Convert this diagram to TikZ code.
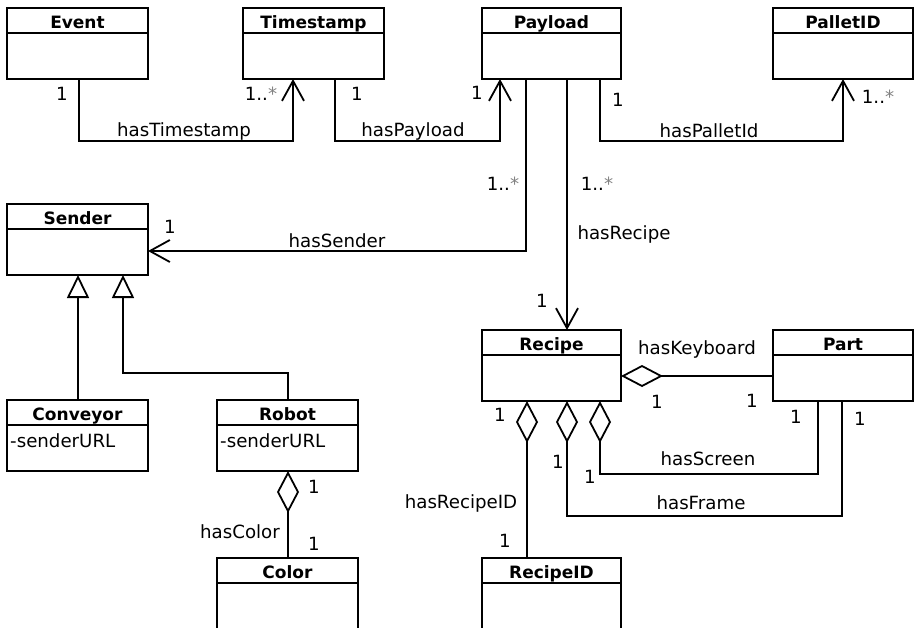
\documentclass[tikz,border=0pt]{standalone}
\usepackage{fontspec}
\setmainfont{DejaVu Sans}
\usetikzlibrary{arrows.meta,calc}
\tikzset{
 clsbox/.style={draw, line width=1.8pt, minimum height=71pt, anchor=north west, inner sep=0pt, outer sep=0pt},
 ttl/.style={font=\fontsize{17}{20}\selectfont\bfseries, anchor=base, inner sep=0pt},
 lbl/.style={font=\fontsize{18.2}{21}\selectfont, anchor=base, inner sep=0pt},
 attrtxt/.style={font=\fontsize{18.2}{21}\selectfont, anchor=base west, inner sep=0pt},
 conn/.style={line width=1.8pt},
 assoc/.style={conn, -{Straight Barb[length=20pt,width=22pt]}},
 gen/.style={conn, -{Triangle[open,length=23pt,width=22pt]}},
 agg/.style={conn, {Diamond[open,length=42pt,width=22pt]}-},
}
\newcommand\umlcls[5]{%
 \node[clsbox, minimum width=#4pt] (#1) at (#2,#3) {};
 \draw[line width=1.8pt] ($(#1.north west)+(0,25)$) -- ($(#1.north east)+(0,25)$);
 \node[ttl] (#1-t) at ($(#1.north)+(0,20)$) {#5};
}
\newcommand\mstar{{\color{gray}*}}
\begin{document}
\begin{tikzpicture}[x=1pt,y=-1pt]
\useasboundingbox (0,0) rectangle (915,627);
\umlcls{event}{7}{8}{141}{Event}
\umlcls{timestamp}{243}{8}{141}{Timestamp}
\umlcls{payload}{482}{8}{139}{Payload}
\umlcls{pallet}{773}{8}{140}{PalletID}
\umlcls{sender}{7}{204}{141}{Sender}
\umlcls{conveyor}{7}{400}{141}{Conveyor}
\umlcls{robot}{217}{400}{141}{Robot}
\umlcls{color}{217}{558}{141}{Color}
\umlcls{recipe}{482}{330}{139}{Recipe}
\umlcls{part}{773}{330}{140}{Part}
\umlcls{recipeid}{482}{558}{139}{RecipeID}

\node[attrtxt] (conveyor-a) at ($(conveyor.north west)+(3,47)$) {-senderURL};
\node[attrtxt] (robot-a) at ($(robot.north west)+(3,47)$) {-senderURL};

% associations
\draw[assoc] ($(event.south west)+(72,0)$) -- ++(0,62) -| ($(timestamp.south west)+(50,0)$);
\draw[assoc] ($(timestamp.south west)+(92,0)$) -- ++(0,62) -| ($(payload.south west)+(18,0)$);
\draw[assoc] ($(payload.south west)+(118,0)$) -- ++(0,62) -| ($(pallet.south west)+(70,0)$);
\draw[assoc] ($(payload.south west)+(44,0)$) |- ($(sender.north east)+(0,47)$);
\draw[assoc] ($(payload.south west)+(85,0)$) -- ($(recipe.north west)+(85,0)$);
% generalizations
\draw[gen] ($(conveyor.north west)+(71,0)$) -- ($(sender.south west)+(71,0)$);
\draw[gen] ($(robot.north west)+(71,0)$) -- ++(0,-27) -| ($(sender.south west)+(116,0)$);
% aggregations
\draw[agg] ($(robot.south west)+(71,0)$) -- ($(color.north west)+(71,0)$);
\draw[agg] ($(recipe.north east)+(0,46)$) -- ($(part.north west)+(0,46)$);
\draw[agg] ($(recipe.south west)+(45,0)$) -- ($(recipeid.north west)+(45,0)$);
\draw[agg] ($(recipe.south west)+(118,0)$) -- ++(0,73) -| ($(part.south west)+(45,0)$);
\draw[agg] ($(recipe.south west)+(85,0)$) -- ++(0,115) -| ($(part.south west)+(69,0)$);

% labels
\node[lbl] (l1) at (62,100) {1};
\node[lbl] (l2) at (261,100) {1..\mstar};
\node[lbl] (l3) at (184,136) {hasTimestamp};
\node[lbl] (l4) at (357,100) {1};
\node[lbl] (l5) at (413,136) {hasPayload};
\node[lbl] (l6) at (477,99) {1};
\node[lbl] (l7) at (618,106) {1};
\node[lbl] (l8) at (709,137) {hasPalletId};
\node[lbl] (l9) at (878,103) {1..\mstar};
\node[lbl] (l10) at (503,190) {1..\mstar};
\node[lbl] (l11) at (597,190) {1..\mstar};
\node[lbl] (l12) at (624,239) {hasRecipe};
\node[lbl] (l13) at (542,307) {1};
\node[lbl] (l14) at (170,233) {1};
\node[lbl] (l15) at (337,247) {hasSender};
\node[lbl] (l16) at (697,354) {hasKeyboard};
\node[lbl] (l17) at (657,408) {1};
\node[lbl] (l18) at (752,407) {1};
\node[lbl] (l19) at (500,421) {1};
\node[lbl] (l20) at (558,468) {1};
\node[lbl] (l21) at (590,483) {1};
\node[lbl] (l22) at (708,465) {hasScreen};
\node[lbl] (l23) at (796,423) {1};
\node[lbl] (l24) at (860,425) {1};
\node[lbl] (l25) at (701,509) {hasFrame};
\node[lbl] (l26) at (461,508) {hasRecipeID};
\node[lbl] (l27) at (505,547) {1};
\node[lbl] (l28) at (314,493) {1};
\node[lbl] (l29) at (240,538) {hasColor};
\node[lbl] (l30) at (314,550) {1};
\end{tikzpicture}
\end{document}
